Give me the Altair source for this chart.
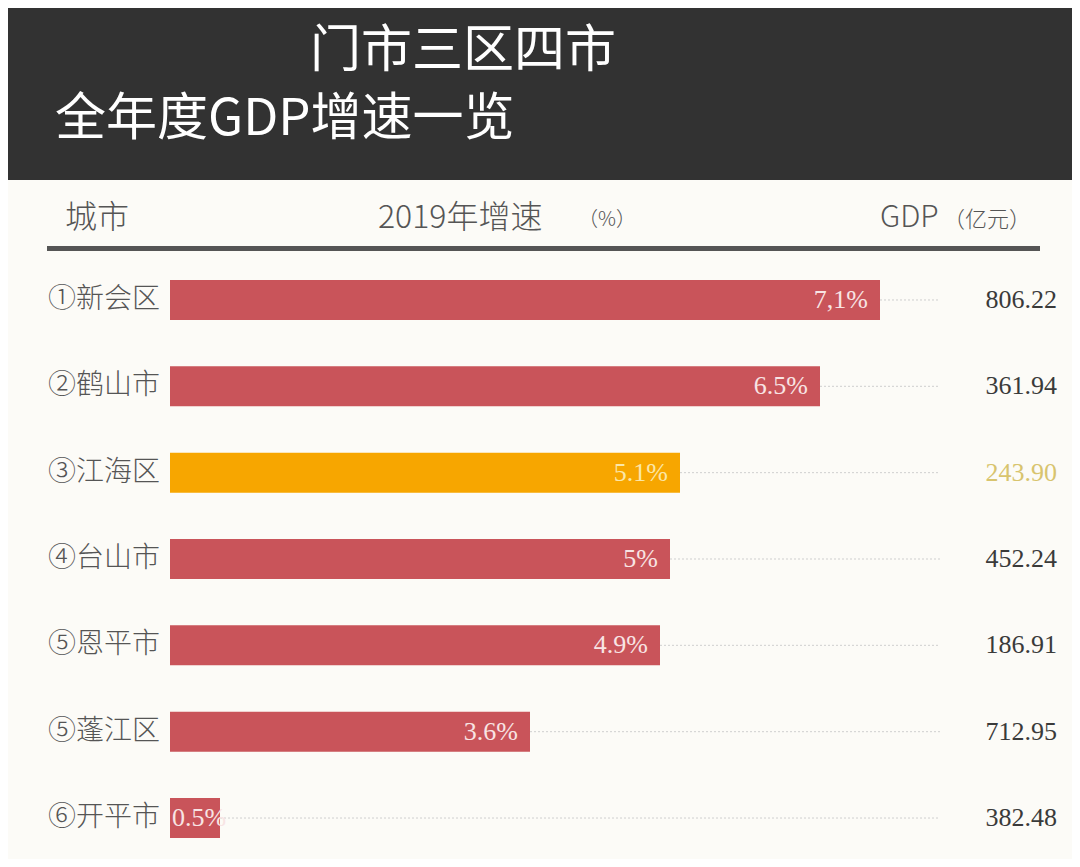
import altair as alt
import pandas as pd

cities = ["①新会区", "②鹤山市", "③江海区", "④台山市", "⑤恩平市", "⑤蓬江区", "⑥开平市"]
growth = [7.1, 6.5, 5.1, 5.0, 4.9, 3.6, 0.5]
growth_labels = ["7,1%", "6.5%", "5.1%", "5%", "4.9%", "3.6%", "0.5%"]
gdp = [806.22, 361.94, 243.90, 452.24, 186.91, 712.95, 382.48]
highlight = [False, False, True, False, False, False, False]

df = pd.DataFrame({
    "city": cities,
    "growth": growth,
    "glabel": growth_labels,
    "gdp": [f"{v:.2f}" for v in gdp],
    "hl": highlight,
})

W, H = 1064, 851
CJK = "Noto Sans CJK SC"
SERIF = "Liberation Serif"

xs = alt.Scale(domain=[0, 7.1], range=[162, 872])
ys = alt.Scale(domain=cities, range=[248.8, 853.2], paddingInner=0.537, paddingOuter=0.2685)
X = alt.X("growth:Q", scale=xs, axis=None)
Y = alt.Y("city:N", scale=ys, axis=None, sort=None)

one = alt.Data(values=[{}])

def box(x, x2, y, y2, color):
    return alt.Chart(one).mark_rect(color=color).encode(
        x=alt.value(x), x2=alt.value(x2), y=alt.value(y), y2=alt.value(y2))

def label(txt, x, y, size, color, font=CJK, weight=400, align="left"):
    return alt.Chart(one).mark_text(
        align=align, baseline="middle", fontSize=size, color=color,
        font=font, fontWeight=weight).encode(
        x=alt.value(x), y=alt.value(y), text=alt.value(txt))

band = box(0, W, 0, 172, "#323232")
t1 = label("门市三区四市", 302, 44, 51, "#ffffff")
t2 = label("全年度GDP增速一览", 47, 112, 51, "#ffffff")

h1 = label("城市", 57, 210, 32, "#555555", weight=300)
h2 = label("2019年增速", 370, 210, 32, "#555555", weight=300)
h2b = label("（%）", 570, 212, 20, "#555555", weight=300)
h3 = label("GDP", 872, 210, 30, "#555555", weight=300)
h3b = label("（亿元）", 935, 212, 22, "#555555", weight=300)
hline = box(39, 1032, 238, 243, "#555555")

base = alt.Chart(df)

leaders = base.mark_rule(color="#cfcfcf", strokeWidth=1, strokeDash=[2, 2]).encode(
    x=X, x2=alt.value(932), y=Y)

bars = base.mark_bar().encode(
    x=X, y=Y,
    color=alt.condition("datum.hl", alt.value("#f7a600"), alt.value("#c9545a")),
)

label_color = alt.condition("datum.hl", alt.value("#fbe7a8"), alt.value("#f8e4e4"))

vals_long = base.transform_filter("datum.growth >= 1").mark_text(
    align="right", baseline="middle", dx=-12, fontSize=26, font=SERIF).encode(
    x=X, y=Y, text="glabel:N", color=label_color)

vals_short = base.transform_filter("datum.growth < 1").mark_text(
    align="left", baseline="middle", dx=2, fontSize=26, font=SERIF).encode(
    x=alt.X("zero:Q", scale=xs, axis=None), y=Y, text="glabel:N", color=label_color
).transform_calculate(zero="0")

names = base.mark_text(align="left", baseline="middle", fontSize=28, font=CJK,
                       fontWeight=300, color="#555555").encode(
    x=alt.value(40), y=Y, text="city:N")

gdps = base.mark_text(align="right", baseline="middle", fontSize=26, font=SERIF).encode(
    x=alt.value(1049), y=Y, text="gdp:N",
    color=alt.condition("datum.hl", alt.value("#d8c46e"), alt.value("#3a3a3a")),
)

chart = alt.layer(
    band, t1, t2, h1, h2, h2b, h3, h3b, hline,
    leaders, bars, vals_long, vals_short, names, gdps,
).properties(
    width=W, height=H, padding=0, background="#fcfbf7",
    autosize=alt.AutoSizeParams(type="none"),
).configure_view(stroke=None)

chart.save("out.html", embed_options={"renderer": "svg", "actions": False})
